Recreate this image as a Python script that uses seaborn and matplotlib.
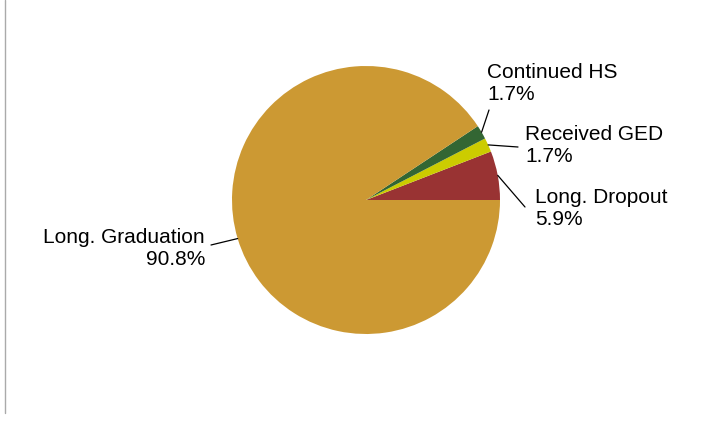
import matplotlib
matplotlib.use("Agg")
import numpy as np
import matplotlib.pyplot as plt
from matplotlib.lines import Line2D
import seaborn as sns

# data (counter-clockwise from 3 o'clock)
categories = ['Long. Dropout', 'Received GED', 'Continued HS', 'Long. Graduation']
shares = [5.9, 1.7, 1.7, 90.8]
colors = ['#993333', '#cccc00', '#336633', '#cc9933']

# label anchor points in pixels (text x, text top y, line end x, line end y, align)
label_pos = {
    'Long. Dropout':    (535, 188, 525, 207, 'left'),
    'Received GED':     (525, 125, 518, 147, 'left'),
    'Continued HS':     (487, 63, 489, 110, 'left'),
    'Long. Graduation': (205, 228, 211, 245, 'right'),
}

sns.set_theme(style="white")
plt.rcParams['font.family'] = ['Liberation Sans', 'DejaVu Sans']

W, H = 713, 425
cx, cy, R = 366, 200, 134

fig = plt.figure(figsize=(W / 100, H / 100), dpi=100)
ax = fig.add_axes([0, 0, 1, 1])

wedges, _ = ax.pie(shares, colors=colors, startangle=0, counterclock=True,
                   radius=1, wedgeprops=dict(linewidth=0))


def px(x, y):
    return (x - cx) / R, (cy - y) / R


for w, name, val in zip(wedges, categories, shares):
    tx, ty, lx, ly, ha = label_pos[name]
    ang = np.deg2rad((w.theta1 + w.theta2) / 2)
    sx, sy = np.cos(ang), np.sin(ang)
    ex, ey = px(lx, ly)
    ax.plot([sx, ex], [sy, ey], color='black', lw=0.9)
    x, y = px(tx, ty)
    ax.text(x, y, f"{name}\n{val:.1f}%", ha=ha, va='top', fontsize=15,
            multialignment=ha, color='black', linespacing=1.2)

ax.set_xlim(-cx / R, (W - cx) / R)
ax.set_ylim(-(H - cy) / R, cy / R)
ax.set_aspect('auto')
ax.axis('off')

# thin grey frame edge on the left
fig.add_artist(Line2D([4.5 / W, 4.5 / W], [1 - 413 / H, 1], color='#aaaaaa', lw=1,
                      transform=fig.transFigure))

fig.savefig('out.png', dpi=100)
